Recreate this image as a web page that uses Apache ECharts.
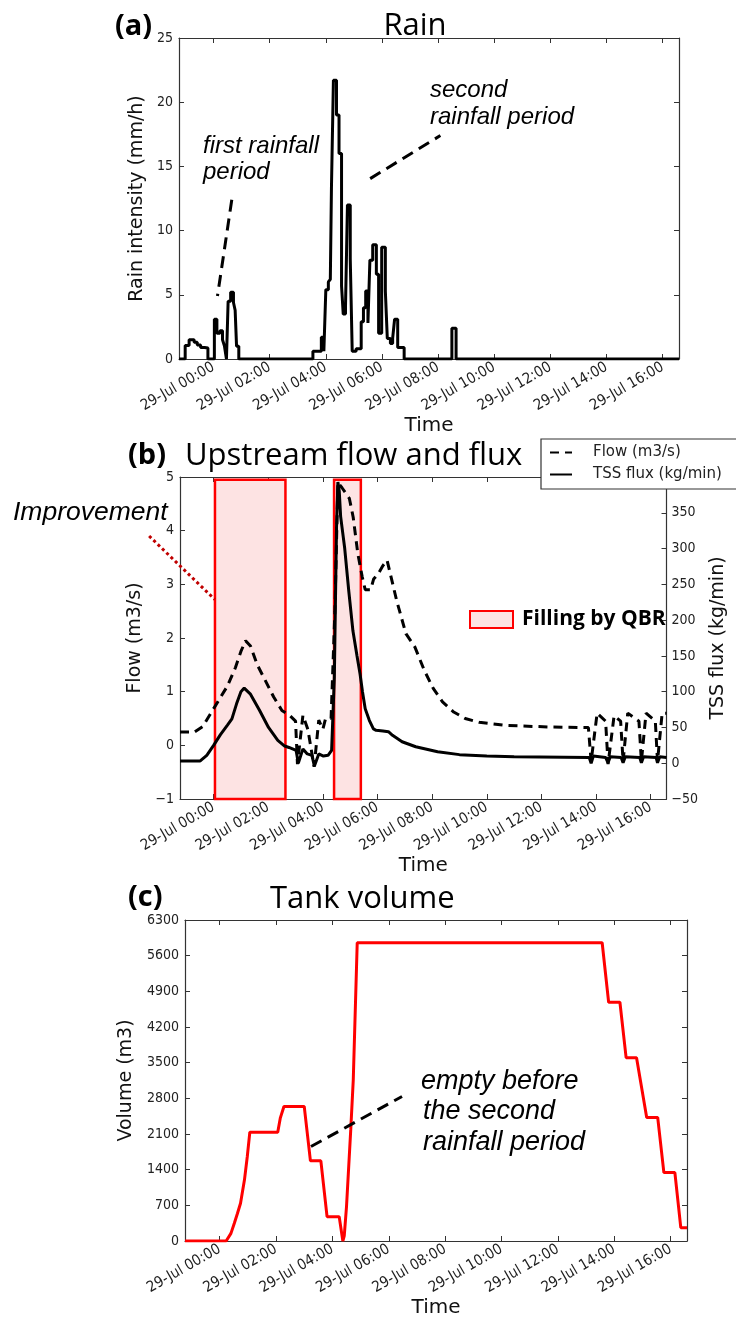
<!DOCTYPE html>
<html><head><meta charset="utf-8">
<script src="https://cdn.jsdelivr.net/npm/echarts@6/dist/echarts.min.js"></script>
<style>html,body{margin:0;padding:0;background:#fff}#c{width:736px;height:1320px}</style>
</head><body><div id="c"></div>
<script>
// ---------------- data (hours relative to 29-Jul 00:00) ----------------
const hourTicks = [0, 2, 4, 6, 8, 10, 12, 14, 16];
const X_MIN = -1.23, X_MAX = 16.58;

// (a) rain intensity, step values (start hour, mm/h)
const rainTime = [-1.23,-1.01,-0.87,-0.69,-0.58,-0.46,-0.32,-0.2,0.03,0.12,0.23,0.32,0.39,0.46,0.52,0.61,0.71,0.77,0.82,0.9,
  3.54,3.84,3.93,4.0,4.09,4.16,4.2,4.27,4.38,4.47,4.56,4.62,4.7,4.77,4.87,4.94,5.08,5.26,5.34,5.42,5.5,5.57,5.67,5.8,5.88,5.99,
  6.12,6.19,6.3,6.38,6.45,6.56,6.79,8.49,8.64,16.58];
const rainValue = [0,1.05,1.5,1.3,1.1,0.9,0.85,0,3.1,2.0,2.2,1.5,1.0,0,4.5,5.2,4.4,3.8,1.0,0,
  0.6,1.7,0.6,5.4,6.0,6.2,13.3,21.7,19.0,16.0,5.7,3.5,4.0,12.0,7.8,0.6,0.8,2.9,4.0,5.3,2.8,7.7,8.9,6.6,2.0,8.7,
  5.3,1.6,1.2,1.6,3.1,0.9,0,2.4,0,0];

// (b) upstream flow (m3/s)
const flowTime = [-1.23,-0.7,-0.4,-0.1,0.2,0.5,0.8,1.0,1.17,1.35,1.6,1.9,2.2,2.5,2.8,3.0,3.07,3.27,3.45,3.68,3.85,4.0,4.1,4.3,
  4.44,4.55,4.7,4.97,5.11,5.28,5.44,5.55,5.75,5.86,6.03,6.2,6.35,6.7,7.04,7.37,7.71,8.04,8.38,8.79,9.21,9.72,10.72,12.4,13.72,
  13.82,14.04,14.35,14.44,14.66,14.9,14.99,15.16,15.57,15.66,15.83,16.17,16.25,16.42,16.58];
const flowValue = [0.25,0.25,0.35,0.6,0.85,1.1,1.45,1.75,1.95,1.85,1.5,1.2,0.9,0.65,0.55,0.45,-0.35,0.56,0.3,-0.4,0.47,0.3,0.5,0.5,
  2.5,4.9,4.8,4.6,4.25,3.57,3.14,2.9,2.9,3.1,3.2,3.35,3.45,2.7,2.08,1.83,1.4,1.06,0.81,0.62,0.5,0.43,0.37,0.34,0.33,
  -0.3,0.6,0.45,-0.35,0.55,0.45,-0.3,0.6,0.45,-0.3,0.6,0.45,-0.3,0.6,0.6];

// (b) TSS flux (kg/min)
const tssTime = [-1.23,-0.5,-0.25,0,0.25,0.5,0.67,0.84,1.0,1.12,1.34,1.68,2.01,2.35,2.6,2.76,3.02,3.1,3.27,3.43,3.6,3.69,3.85,4.02,4.19,4.32,
  4.42,4.5,4.55,4.6,4.65,4.7,4.8,4.95,5.1,5.25,5.36,5.45,5.55,5.7,5.85,5.95,6.2,6.4,6.55,6.9,7.4,8.2,9.0,10.0,11.0,13.75,
  13.82,13.9,14.35,14.44,14.52,14.92,14.99,15.07,15.6,15.66,15.74,16.2,16.25,16.33,16.58];
const tssValue = [3,3,11,25,40,53,62,83,100,105,97,74,50,32,24,22,18,0,20,13,11,-4,13,10,11,18,
  120,330,393,380,345,330,300,240,185,150,125,100,76,60,48,46,45,44,39,30,23,16,12,10,9,8,
  0,10,8,0.5,9,8,0.5,9,8,0.5,9,8,0.5,9,8];

// (b) periods of tank filling by QBR: [start, end, flowBottom, flowTop]
const fillingPeriods = [[0.05, 2.63, -1, 4.95], [4.41, 5.39, -1, 4.95]];

// (c) tank volume (m3)
const tankTime = [-1.23,0.23,0.4,0.52,0.63,0.74,0.88,0.98,1.07,2.06,2.15,2.28,3.0,3.22,3.59,3.81,4.24,4.37,4.42,4.5,4.65,4.74,4.88,
  13.57,13.8,14.2,14.42,14.79,15.15,15.54,15.76,16.15,16.36,16.58];
const tankValue = [0,0,150,347,540,740,1200,1658,2136,2136,2411,2641,2641,1573,1573,478,478,0,100,675,2180,3165,5853,
  5853,4685,4685,3598,3598,2425,2425,1343,1343,262,262];

// annotation pointer lines, in data coordinates [hour, value]
const rainNote1 = [[0.65, 12.4], [0.14, 4.9]];
const rainNote2 = [[5.58, 14.05], [8.08, 17.4]];
const improveNote = [[-2.36, 3.9], [0.04, 2.72]];
const tankNote = [[3.24, 1854], [6.47, 2837]];

// ---------------- chart ----------------
const zip = (a, b) => a.map((v, i) => [v, b[i]]);
const TICK_FONT = "'DejaVu Sans Condensed', 'DejaVu Sans', sans-serif";
const NAME_FONT = "'DejaVu Sans', sans-serif";
const AX = '#333';
const fmtTime = v => '29-Jul ' + String(Math.round(v)).padStart(2, '0') + ':00';
const fmtNum = v => v < 0 ? '\u2212' + (-v) : String(v);

function xAxes(gi) {
  return [{
    type: 'value', gridIndex: gi, min: X_MIN, max: X_MAX, position: 'bottom',
    axisLine: { show: true, onZero: false, lineStyle: { color: AX, width: 1.2 } },
    axisTick: { show: true, inside: true, length: 5, customValues: hourTicks, lineStyle: { color: AX } },
    axisLabel: { customValues: hourTicks, rotate: 30, margin: 7, formatter: fmtTime,
      fontFamily: TICK_FONT, fontSize: 15, color: '#222' },
    splitLine: { show: false },
    name: 'Time', nameLocation: 'middle', nameGap: 57,
    nameTextStyle: { fontFamily: NAME_FONT, fontSize: 20, color: '#111' }
  }, {
    type: 'value', gridIndex: gi, min: X_MIN, max: X_MAX, position: 'top',
    axisLine: { show: true, onZero: false, lineStyle: { color: AX, width: 1.2 } },
    axisTick: { show: true, inside: true, length: 5, customValues: hourTicks, lineStyle: { color: AX } },
    axisLabel: { show: false }, splitLine: { show: false }
  }];
}
function yAxis(gi, pos, min, max, interval, opts) {
  return Object.assign({
    type: 'value', gridIndex: gi, min, max, interval, position: pos,
    axisLine: { show: true, onZero: false, lineStyle: { color: AX, width: 1.2 } },
    axisTick: { show: true, inside: true, length: 5, lineStyle: { color: AX } },
    axisLabel: { show: true, margin: 6, fontFamily: TICK_FONT, fontSize: 14, color: '#222', formatter: fmtNum },
    splitLine: { show: false }
  }, opts || {});
}
const nameStyle = { fontFamily: NAME_FONT, fontSize: 19, color: '#111' };

const chart = echarts.init(document.getElementById('c'), null, { renderer: 'canvas' });
const option = {
  backgroundColor: '#fff',
  animation: false,
  grid: [
    { left: 179, top: 38, width: 500, height: 321 },
    { left: 180, top: 477, width: 501, height: 322 },
    { left: 185, top: 920, width: 502, height: 321 }
  ],
  xAxis: [...xAxes(0), ...xAxes(1), ...xAxes(2)],
  yAxis: [
    yAxis(0, 'left', 0, 25, 5, { name: 'Rain intensity (mm/h)', nameLocation: 'middle', nameGap: 23, nameTextStyle: nameStyle }),
    yAxis(0, 'right', 0, 25, 5, { axisLabel: { show: false } }),
    yAxis(1, 'left', -1, 5, 1, { name: 'Flow (m3/s)', nameLocation: 'middle', nameGap: 22, nameTextStyle: nameStyle }),
    yAxis(1, 'right', -50, 400, 50, { name: 'TSS flux (kg/min)', nameLocation: 'middle', nameGap: 34, nameRotate: 90, nameTextStyle: nameStyle,
      axisLabel: { margin: 5, fontFamily: TICK_FONT, fontSize: 14, color: '#222', formatter: fmtNum } }),
    yAxis(2, 'left', 0, 6300, 700, { name: 'Volume (m3)', nameLocation: 'middle', nameGap: 40, nameTextStyle: nameStyle }),
    yAxis(2, 'right', 0, 6300, 700, { axisLabel: { show: false } })
  ],
  legend: [{
    data: ['Flow (m3/s)', 'TSS flux (kg/min)'],
    orient: 'vertical', left: 541, top: 439,
    backgroundColor: '#fff', borderColor: '#333', borderWidth: 1.2, borderRadius: 0,
    padding: [6, 16, 7, 8], itemWidth: 22, itemHeight: 14, itemGap: 7,
    selectedMode: false,
    itemStyle: { opacity: 0 },
    textStyle: { fontFamily: NAME_FONT, fontSize: 15, color: '#222', padding: [0, 0, 0, 16] }
  }, {
    data: [{ name: 'Filling by QBR', icon: 'rect',
      itemStyle: { color: '#fde3e3', borderColor: '#ff0000', borderWidth: 2 } }],
    left: 469, top: 609, padding: 0, itemWidth: 43, itemHeight: 17, selectedMode: false,
    textStyle: { fontFamily: "'Open Sans', 'Noto Sans', sans-serif", fontWeight: 'bold', fontSize: 21, color: '#000', padding: [0, 0, 0, 4] }
  }],
  series: [
    { name: 'Rain', type: 'line', step: 'end', xAxisIndex: 0, yAxisIndex: 0, data: zip(rainTime, rainValue),
      symbol: 'none', lineStyle: { color: '#000', width: 3 }, itemStyle: { color: '#000' }, z: 3 },
    { name: 'Filling by QBR', type: 'custom', xAxisIndex: 2, yAxisIndex: 2, data: fillingPeriods,
      encode: { x: [0, 1], y: [2, 3] }, silent: true, z: 1,
      itemStyle: { color: '#fde3e3', borderColor: '#ff0000', borderWidth: 2 },
      renderItem: (params, api) => {
        const p0 = api.coord([api.value(0), api.value(3)]);
        const p1 = api.coord([api.value(1), api.value(2)]);
        return { type: 'rect', shape: { x: p0[0], y: p0[1], width: p1[0] - p0[0], height: p1[1] - p0[1] },
          style: { fill: '#fde3e3', stroke: '#ff0000', lineWidth: 2.5 } };
      } },
    { name: 'Flow (m3/s)', type: 'line', xAxisIndex: 2, yAxisIndex: 2, data: zip(flowTime, flowValue),
      symbol: 'none', lineStyle: { color: '#000', width: 3, type: [9, 6] }, itemStyle: { color: '#000' }, z: 3 },
    { name: 'TSS flux (kg/min)', type: 'line', xAxisIndex: 2, yAxisIndex: 3, data: zip(tssTime, tssValue),
      symbol: 'none', lineStyle: { color: '#000', width: 3 }, itemStyle: { color: '#000' }, z: 3 },
    { name: 'Tank volume', type: 'line', xAxisIndex: 4, yAxisIndex: 4, data: zip(tankTime, tankValue),
      symbol: 'none', lineStyle: { color: '#ff0000', width: 3 }, itemStyle: { color: '#ff0000' }, z: 3 }
  ]
};
chart.setOption(option);

// annotations
const px = (xi, yi, pt) => chart.convertToPixel({ xAxisIndex: xi, yAxisIndex: yi }, pt);
function pointer(xi, yi, pts, stroke, dash) {
  const a = px(xi, yi, pts[0]), b = px(xi, yi, pts[1]);
  return { type: 'line', shape: { x1: a[0], y1: a[1], x2: b[0], y2: b[1] }, z: 10,
    style: { stroke, lineWidth: 3, lineDash: dash } };
}
const TITLE_FONT = "'Open Sans', 'Noto Sans', sans-serif";
const NOTE_FONT = "'Liberation Sans', Arial, sans-serif";
function txt(text, x, y, font, align) {
  return { type: 'text', z: 10, x, y, style: { text, font, fill: '#000', align: align || 'left', verticalAlign: 'middle' } };
}
chart.setOption({
  graphic: [
    pointer(0, 0, rainNote1, '#000', [12, 7]),
    pointer(0, 0, rainNote2, '#000', [12, 7]),
    pointer(2, 2, improveNote, '#c00000', [3, 3]),
    pointer(4, 4, tankNote, '#000', [12, 7]),
    txt('(a)', 115, 27, 'bold 29px ' + TITLE_FONT),
    txt('Rain', 415, 26, '31px ' + TITLE_FONT, 'center'),
    txt('(b)', 128, 456, 'bold 29px ' + TITLE_FONT),
    txt('Upstream flow and flux', 185, 456, '31px ' + TITLE_FONT),
    txt('(c)', 128, 898, 'bold 29px ' + TITLE_FONT),
    txt('Tank volume', 270, 899, '31px ' + TITLE_FONT),
    txt('first rainfall', 203, 146, 'italic 24px ' + NOTE_FONT),
    txt('period', 203, 172, 'italic 24px ' + NOTE_FONT),
    txt('second', 430, 90, 'italic 24px ' + NOTE_FONT),
    txt('rainfall period', 430, 117, 'italic 24px ' + NOTE_FONT),
    txt('Improvement', 13, 513, 'italic 26.5px ' + NOTE_FONT),
    txt('empty before', 421, 1081, 'italic 27px ' + NOTE_FONT),
    txt('the second', 423, 1111, 'italic 27px ' + NOTE_FONT),
    txt('rainfall period', 423, 1142, 'italic 27px ' + NOTE_FONT)
  ]
});
</script></body></html>
